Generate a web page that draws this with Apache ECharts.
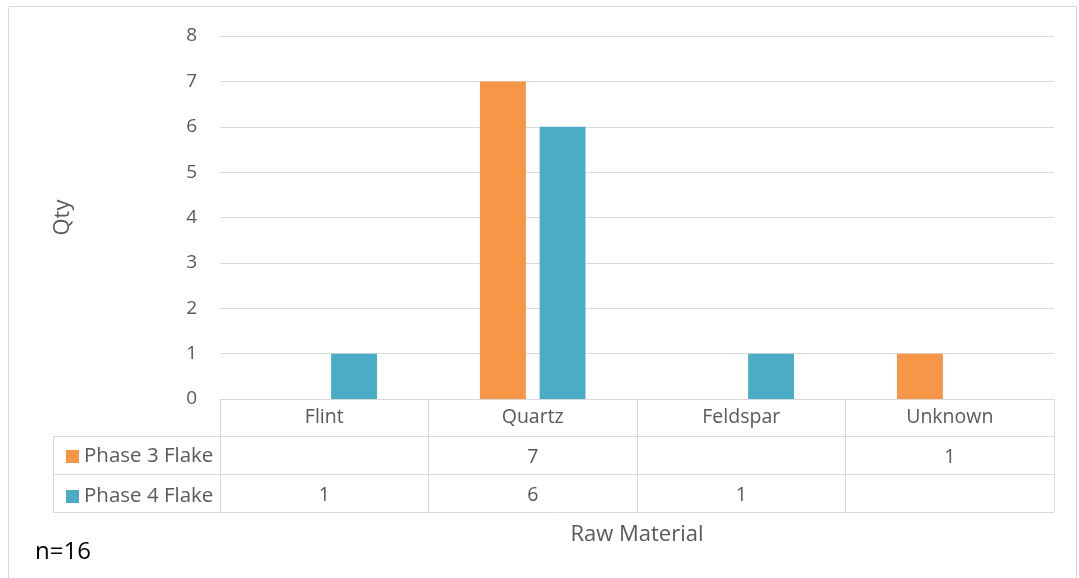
<!DOCTYPE html>
<html>
<head>
<meta charset="utf-8">
<script src="https://cdn.jsdelivr.net/npm/echarts@6/dist/echarts.min.js"></script>
<style>html,body{margin:0;padding:0;background:#fff}#c{width:1079px;height:578px}</style>
</head>
<body>
<div id="c"></div>
<script>
const categories = ['Flint', 'Quartz', 'Feldspar', 'Unknown'];
const seriesNames = ['Phase 3 Flake', 'Phase 4 Flake'];
const phase3 = [null, 7, null, 1];
const phase4 = [1, 6, 1, null];
const yTicks = [0, 1, 2, 3, 4, 5, 6, 7, 8];
const note = 'n=16';

const FONT = '"Open Sans", "Noto Sans", sans-serif';
const GRAY = '#595959';
const LINE = '#d9d9d9';
const COLORS = ['#F79646', '#4BACC6'];

const chart = echarts.init(document.getElementById('c'), null, {renderer: 'canvas'});
const fmt = arr => (v, i) => arr[i] == null ? '' : String(arr[i]);

const hLine = (x1, y, x2) => ({type: 'line', shape: {x1: x1, y1: y + 0.5, x2: x2, y2: y + 0.5}, style: {stroke: LINE, lineWidth: 1}, silent: true});

chart.setOption({
  animation: false,
  textStyle: {fontFamily: FONT},
  color: COLORS,
  grid: {left: 220, right: 25, top: 36, bottom: 179, containLabel: false},
  legend: {
    orient: 'vertical', left: 61, top: 441, itemGap: 19,
    icon: 'rect', itemWidth: 13, itemHeight: 13,
    textStyle: {fontFamily: FONT, fontSize: 20.5, color: GRAY, lineHeight: 17},
    data: seriesNames, selectedMode: false
  },
  xAxis: [
    {
      type: 'category', data: categories, position: 'bottom',
      axisLine: {show: true, lineStyle: {color: LINE, width: 1}},
      axisTick: {show: true, interval: 0, length: 113, lineStyle: {color: LINE, width: 1}},
      axisLabel: {margin: 8, fontSize: 19.5, color: GRAY, fontFamily: FONT, interval: 0},
      splitLine: {show: false}
    },
    {
      type: 'category', data: categories, position: 'bottom', offset: 37,
      axisLine: {show: false}, axisTick: {show: false},
      axisLabel: {margin: 11, fontSize: 19.5, color: GRAY, fontFamily: FONT, interval: 0, formatter: fmt(phase3)}
    },
    {
      type: 'category', data: categories, position: 'bottom', offset: 75,
      axisLine: {show: false}, axisTick: {show: false},
      axisLabel: {margin: 11, fontSize: 19.5, color: GRAY, fontFamily: FONT, interval: 0, formatter: fmt(phase4)},
      name: 'Raw Material', nameLocation: 'middle', nameGap: 50,
      nameTextStyle: {fontSize: 22, color: GRAY, fontFamily: FONT}
    }
  ],
  yAxis: {
    type: 'value', min: yTicks[0], max: yTicks[yTicks.length - 1], interval: 1,
    axisLine: {show: false}, axisTick: {show: false},
    axisLabel: {margin: 23, fontSize: 19, color: GRAY, fontFamily: FONT},
    splitLine: {lineStyle: {color: LINE, width: 1}},
    name: 'Qty', nameLocation: 'middle', nameGap: 146, nameRotate: 90,
    nameTextStyle: {fontSize: 22, color: GRAY, fontFamily: FONT}
  },
  series: [
    {name: seriesNames[0], type: 'bar', data: phase3, barWidth: '22%', barGap: '30%', xAxisIndex: 0},
    {name: seriesNames[1], type: 'bar', data: phase4, barWidth: '22%', barGap: '30%', xAxisIndex: 0}
  ],
  graphic: [
    {type: 'rect', shape: {x: 8.5, y: 6.5, width: 1068, height: 600}, style: {fill: 'none', stroke: LINE, lineWidth: 1}, silent: true, z: -1},
    hLine(53, 436, 1054),
    hLine(53, 474, 1054),
    hLine(53, 512, 1054),
    {type: 'line', shape: {x1: 53.5, y1: 436, x2: 53.5, y2: 513}, style: {stroke: LINE, lineWidth: 1}, silent: true},
    {type: 'text', left: 35, top: 540, style: {text: note, fontSize: 24, fill: '#000', fontFamily: FONT}}
  ]
});
</script>
</body>
</html>
